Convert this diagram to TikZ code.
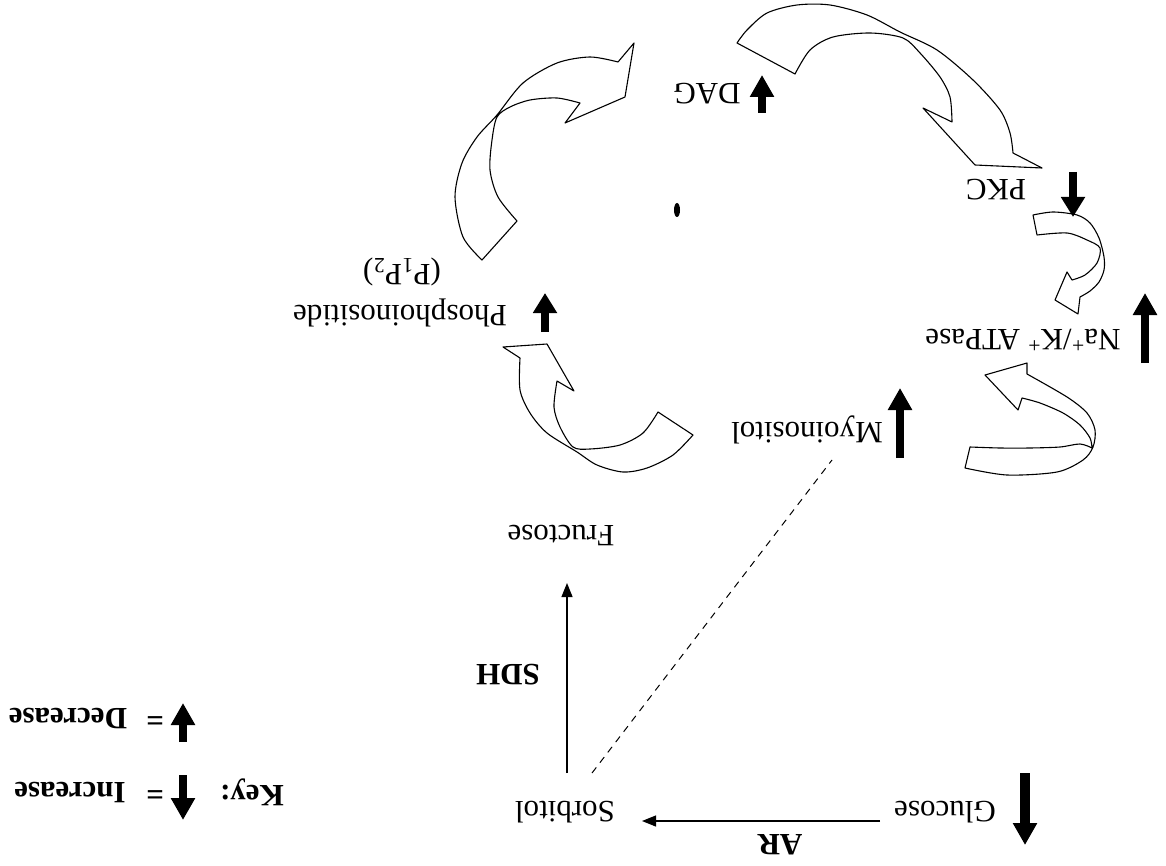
\documentclass[tikz,border=0pt]{standalone}
\usepackage{fontspec}
\setmainfont{Liberation Serif}
\usepackage{graphicx}
\usetikzlibrary{arrows.meta,calc}
\newcommand{\updown}[1]{\rotatebox{180}{#1}}
\tikzset{
  lbl/.style={inner sep=0pt, font=\fontsize{31}{37}\selectfont},
  blabel/.style={inner sep=0pt, font=\fontsize{31}{37}\selectfont\bfseries},
  blockarrow/.style={draw=black, line width=1.1pt, line join=round},
  fatarrow/.style={line width=8pt, -{Triangle[length=22pt,width=23pt]}},
  thinarrow/.style={line width=1.2pt, -{Triangle[length=14pt,width=11pt]}},
  dashline/.style={line width=1pt, dash pattern=on 7pt off 6pt}
}
\begin{document}
\begin{tikzpicture}[x=1pt,y=-1pt]
\useasboundingbox[fill=white] (0,0) rectangle (1166,866);

% ---- text nodes (printed upside down) ----
\node[lbl] (glucose) at (945,812) {\updown{Glucose}};
\node[lbl] (sorbitol) at (565,812) {\updown{Sorbitol}};
\node[lbl] (fructose) at (561,535) {\updown{Fructose}};
\node[blabel] (sdh) at (508,675) {\updown{SDH}};
\node[blabel] (ar) at (780,845) {\updown{AR}};
\node[lbl] (myo) at (807,430) {\updown{Myoinositol}};
\node[lbl] (na) at (1023,340) {\updown{Na\textsuperscript{+}/K\textsuperscript{+} ATPase}};
\node[lbl] (pkc) at (996,190) {\updown{PKC}};
\node[lbl] (dag) at (707,94) {\updown{DAG}};
\node[lbl] (phos) at (400,313) {\updown{Phosphoinositide}};
\node[lbl] (p1p2) at (402,272) {\updown{(P\textsubscript{1}P\textsubscript{2})}};
\node[blabel] (key) at (252,792) {\updown{Key:}};
\node[blabel] (eqa) at (155,792) {\updown{=}};
\node[blabel] (inc) at (70,792) {\updown{Increase}};
\node[blabel] (eqb) at (155,718) {\updown{=}};
\node[blabel] (dec) at (68,718) {\updown{Decrease}};

% ---- connectors ----
\draw[thinarrow] ($(glucose)+(-65,9)$) -- ($(sorbitol)+(77,9)$);
\draw[thinarrow] ($(sorbitol)+(2,-39)$) -- ($(fructose)+(6,48)$);
\draw[dashline] ($(sorbitol)+(27,-39)$) -- ($(myo)+(25,30)$);

% ---- bold up/down indicator arrows ----
\draw[fatarrow, line width=10pt] (1025,773) -- (1025,845);
\draw[fatarrow] (183,775) -- (183,820);
\draw[fatarrow] (183,742) -- (183,703);
\draw[fatarrow] (900,458) -- (900,388);
\draw[fatarrow] (1145,363) -- (1145,293);
\draw[fatarrow, -{Triangle[length=20pt,width=23pt]}] (1073,172) -- (1073,217);
\draw[fatarrow] (762,113) -- (762,75);
\draw[fatarrow, -{Triangle[length=20pt,width=23pt]}] (545,332) -- (545,293);

% ---- block arrow A: Phosphoinositide -> DAG ----
\draw[blockarrow]
  plot[smooth] coordinates {(482,260) (463,237) (455,197) (462,163) (477,137) (497,115) (523,83) (557,63) (590,57) (618,62)}
  -- (634,43) -- (625,97) -- (565,123) -- (580,103)
  -- plot[smooth] coordinates {(580,103) (557,98) (530,100) (510,107) (497,117) (492,140) (490,170) (498,197) (517,221)}
  -- cycle;

% ---- block arrow B: DAG -> PKC ----
\draw[blockarrow]
  plot[smooth] coordinates {(737,43) (747,30) (767,13) (797,5) (830,5) (867,15) (900,32) (937,50) (973,80) (1000,110) (1010,133) (1013,153)}
  -- (1042,168) -- (975,165) -- (923,108) -- (952,122)
  -- plot[smooth] coordinates {(952,122) (950,97) (940,77) (920,53) (903,38) (870,33) (833,37) (810,50) (795,74)}
  -- cycle;

% ---- block arrow C: PKC -> Na/K ATPase ----
\draw[blockarrow]
  plot[smooth] coordinates {(1033,215) (1053,212) (1077,215) (1090,223) (1099,238) (1104,257) (1104,270) (1099,282) (1090,291) (1080,297)}
  -- (1078,314) -- (1055,300) -- (1067,272) -- (1072,280)
  -- plot[smooth] coordinates {(1072,280) (1085,275) (1097,263) (1100,248) (1087,240) (1067,233) (1037,235)}
  -- cycle;

% ---- block arrow D: Myoinositol -> Na/K ATPase ----
\draw[blockarrow]
  plot[smooth] coordinates {(965,468) (1007,475) (1057,472) (1083,460) (1093,447) (1095,430) (1087,413) (1067,397) (1027,374)}
  -- (1027,363) -- (985,375) -- (1018,410) -- (1022,398)
  -- plot[smooth] coordinates {(1022,398) (1040,403) (1063,413) (1080,425) (1090,438) (1092,448)}
  -- plot[smooth] coordinates {(1092,448) (1080,444) (1060,447) (1030,448) (1000,448) (970,447)}
  -- cycle;

% ---- block arrow E: Fructose -> Phosphoinositide ----
\draw[blockarrow]
  plot[smooth] coordinates {(693,435) (673,455) (647,468) (623,472) (597,465) (577,452) (547,433) (530,413) (520,390) (520,358)}
  -- (503,347) -- (547,344) -- (574,391) -- (557,381)
  -- plot[smooth] coordinates {(557,381) (554,407) (560,427) (573,447) (590,449) (620,445) (643,433) (658,412)}
  -- cycle;

% ---- stray mark in the centre ----
\fill (677,210) ellipse [x radius=3, y radius=7];
\end{tikzpicture}
\end{document}
